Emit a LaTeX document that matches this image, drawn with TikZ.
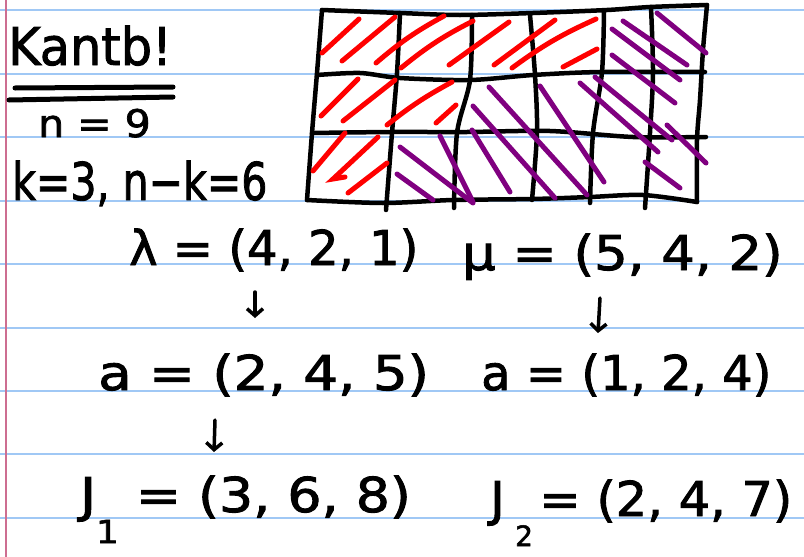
\documentclass[tikz,border=0pt]{standalone}
\usepackage{fontspec}
\setmainfont{DejaVu Sans}[FakeBold=1.8]
\usetikzlibrary{arrows.meta}
\definecolor{rulecol}{RGB}{160,200,245}
\definecolor{margincol}{RGB}{205,110,145}
\definecolor{hred}{RGB}{255,0,0}
\definecolor{hpurple}{RGB}{128,0,128}
\begin{document}
\begin{tikzpicture}[x=1pt,y=-1pt,
  ruling/.style={rulecol, line width=2pt},
  marginline/.style={margincol, line width=2pt},
  gridline/.style={black, line width=4.5pt, line cap=round, line join=round},
  redhatch/.style={hred, line width=5pt, line cap=round},
  purphatch/.style={hpurple, line width=5pt, line cap=round},
  hand/.style={inner sep=0pt, anchor=base west, text=black},
  pen/.style={black, line width=3.5pt, line cap=round, -{Straight Barb[length=7pt,width=16pt,line width=3.5pt]}}
]
% page
\fill[white] (0,0) rectangle (804,557);
\useasboundingbox (0,0) rectangle (804,557);
% ruled lines
\foreach \yy in {10,73.5,137,200.5,264,327.5,390.5,454,517.5}
  \draw[ruling] (0,\yy) -- (804,\yy);
\draw[marginline] (6,0) -- (6,557);

% grid
\draw[gridline] plot[smooth, tension=0.5] coordinates {(322,10) (400,13) (460,15) (533,13) (607,10) (650,7) (707,5)};
\draw[gridline] plot[smooth, tension=0.5] coordinates {(707,5) (703,50) (700,100) (697,140) (697,202)};
\draw[gridline] plot[smooth, tension=0.5] coordinates {(307,200) (383,203) (453,200) (533,199) (590,197) (643,195) (697,202)};
\draw[gridline] plot[smooth, tension=0.5] coordinates {(322,10) (317,73) (312,133) (307,200)};
\draw[gridline] plot[smooth, tension=0.5] coordinates {(317,75) (360,73) (400,78) (470,80) (533,75) (600,72) (705,72)};
\draw[gridline] plot[smooth, tension=0.5] coordinates {(312,133) (390,132) (467,132) (550,131) (633,137) (706,137)};
\draw[gridline] plot[smooth, tension=0.5] coordinates {(400,13) (397,73) (392,133) (386,210)};
\draw[gridline] plot[smooth, tension=0.5] coordinates {(472,15) (470,80) (457,133) (454,208)};
\draw[gridline] plot[smooth, tension=0.5] coordinates {(530,15) (535,75) (537,132) (532,200)};
\draw[gridline] plot[smooth, tension=0.5] coordinates {(604,11) (602,72) (593,133) (590,203)};
\draw[gridline] plot[smooth, tension=0.5] coordinates {(651,7) (653,72) (650,133) (645,208)};

% red hatching (lambda)
\draw[redhatch] (322,53) -- (359,19);
\draw[redhatch] (342,61) -- (395,17);
\draw[redhatch] (376,63) to[bend left=6] (444,16);
\draw[redhatch] (401,68) to[bend left=6] (473,21);
\draw[redhatch] (449,65) -- (509,22);
\draw[redhatch] (494,65) -- (555,20);
\draw[redhatch] (512,68) to[bend left=6] (596,19);
\draw[redhatch] (563,67) -- (597,49);
\draw[redhatch] (321,116) -- (358,79);
\draw[redhatch] (343,121) -- (395,80);
\draw[redhatch] (387,125) to[bend left=5] (452,82);
\draw[redhatch] (436,123) -- (456,105);
\draw[redhatch] (313,171) -- (345,133);
\draw[redhatch] (345,177) -- (333,179) -- (378,137);
\draw[redhatch] (348,193) -- (387,163);

% purple hatching (mu complement)
\draw[purphatch] (657,13) -- (706,53);
\draw[purphatch] (623,21) -- (687,65);
\draw[purphatch] (612,29) -- (680,80);
\draw[purphatch] (612,55) -- (675,103);
\draw[purphatch] (595,77) -- (672,140);
\draw[purphatch] (580,83) -- (658,152);
\draw[purphatch] (667,125) -- (706,163);
\draw[purphatch] (540,86) -- (604,182);
\draw[purphatch] (489,87) -- (587,195);
\draw[purphatch] (473,106) -- (555,198);
\draw[purphatch] (472,130) -- (510,192);
\draw[purphatch] (440,136) -- (473,202);
\draw[purphatch] (400,147) -- (473,203);
\draw[purphatch] (397,174) -- (433,200);
\draw[purphatch] (645,162) -- (680,188);

% left notes
\node[hand, font=\fontsize{52}{52}\selectfont] (title) at (8,65) {\scalebox{0.95}[1]{Kantb!}};
\draw[gridline, line width=5pt] (15,88) -- (173,87);
\draw[gridline, line width=5pt] (9,100) -- (173,97);
\node[hand, font=\fontsize{38}{38}\selectfont] (nval) at (38,137) {\scalebox{1.08}[1]{n = 9}};
\node[hand, font=\fontsize{52}{52}\selectfont] (kval) at (12,200) {\scalebox{0.79}[1]{k=3, n−k=6}};

% expressions
\node[hand, font=\fontsize{48}{48}\selectfont] (lam) at (129,265) {λ = (4, 2, 1)};
\node[hand, font=\fontsize{48}{48}\selectfont] (mu) at (462,270) {\scalebox{1.1}[1]{μ = (5, 4, 2)}};
\node[hand, font=\fontsize{48}{48}\selectfont] (aone) at (98,390) {\scalebox{1.14}[1]{a = (2, 4, 5)}};
\node[hand, font=\fontsize{48}{48}\selectfont] (atwo) at (481,390) {a = (1, 2, 4)};
\node[hand, font=\fontsize{48}{48}\selectfont] (jone) at (80,512) {\scalebox{1.12}[1]{J\raisebox{-0.65em}{\fontsize{32}{32}\selectfont 1} = (3, 6, 8)}};
\node[hand, font=\fontsize{48}{48}\selectfont] (jtwo) at (490,516) {\scalebox{1.03}[1]{J\hspace{0.7em}= (2, 4, 7)}};
\node[hand, font=\fontsize{28}{28}\selectfont] (jtwosub) at (515,546) {2};

% arrows
\coordinate (ar1s) at (255,292);
\coordinate (ar1e) at (255,318);
\coordinate (ar2s) at (600,298);
\coordinate (ar2e) at (598,333);
\coordinate (ar3s) at (215,420);
\coordinate (ar3e) at (214,452);
\draw[pen] (ar1s) -- (ar1e);
\draw[pen] (ar2s) -- (ar2e);
\draw[pen] (ar3s) -- (ar3e);
\end{tikzpicture}
\end{document}
